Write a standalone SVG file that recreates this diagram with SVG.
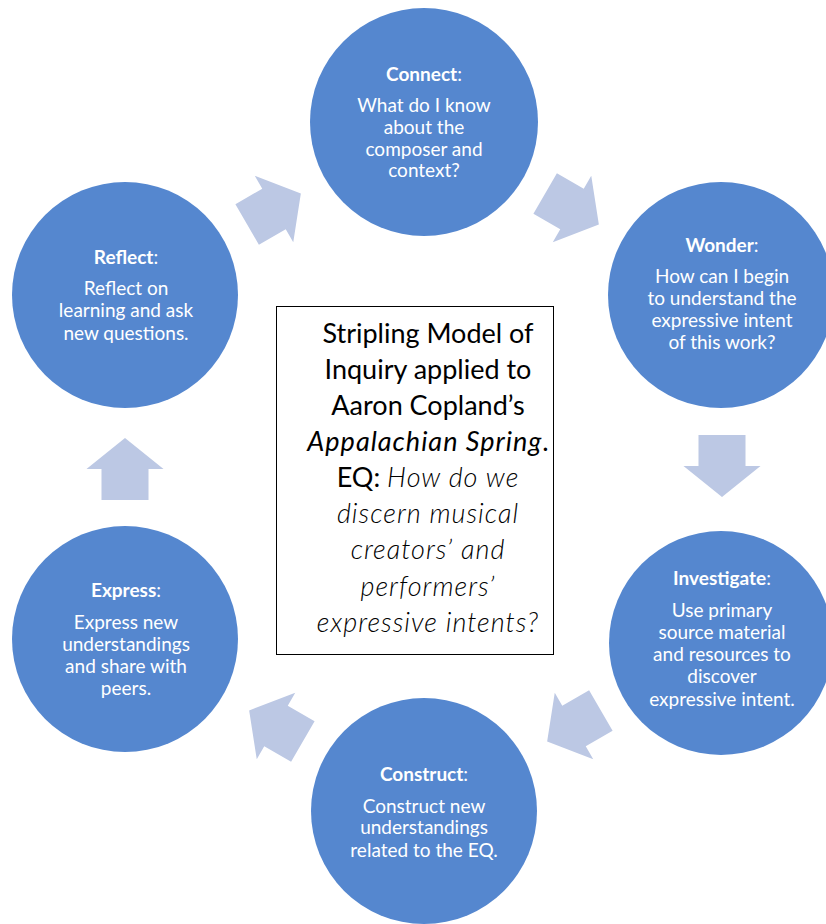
<svg xmlns="http://www.w3.org/2000/svg" width="826" height="924" viewBox="0 0 826 924">
<style>
.c{fill:#5587CF}
.ar{fill:#BCC8E4}
.t{font-family:Lato,"Open Sans","Liberation Sans",sans-serif;font-size:19px;fill:#fff;text-anchor:middle}
.b{font-weight:bold}
.m{font-family:Lato,"Open Sans","Liberation Sans",sans-serif;font-size:27px;fill:#000;text-anchor:middle}
.i{font-style:italic;letter-spacing:1px}
.l{font-weight:300}
</style>
<defs>
<path id="arrow" d="M-31,-23.5 H0 V-38.5 L31,0 L0,38.5 V23.5 H-31 Z"/>
</defs>
<rect width="826" height="924" fill="#fff"/>
<g id="connectors">
<use href="#arrow" class="ar" transform="translate(274,209) rotate(-30)"/>
<use href="#arrow" class="ar" transform="translate(572,209) rotate(30)"/>
<use href="#arrow" class="ar" transform="translate(722,466) rotate(90)"/>
<use href="#arrow" class="ar" transform="translate(574,726) rotate(150)"/>
<use href="#arrow" class="ar" transform="translate(276,726) rotate(210)"/>
<use href="#arrow" class="ar" transform="translate(125,469) rotate(-90)"/>
</g>
<g id="connect">
<circle class="c" cx="424" cy="122" r="114"/>
<text class="t" x="424" y="81"><tspan class="b">Connect</tspan>:</text>
<text class="t" x="424" y="112">What do I know</text>
<text class="t" x="424" y="134">about the</text>
<text class="t" x="424" y="156">composer and</text>
<text class="t" x="424" y="177">context?</text>
</g>
<g id="wonder">
<circle class="c" cx="721" cy="295" r="113"/>
<text class="t" x="722" y="252"><tspan class="b">Wonder</tspan>:</text>
<text class="t" x="722" y="283">How can I begin</text>
<text class="t" x="722" y="305">to understand the</text>
<text class="t" x="722" y="327">expressive intent</text>
<text class="t" x="722" y="349">of this work?</text>
</g>
<g id="investigate">
<circle class="c" cx="721" cy="643" r="112"/>
<text class="t" x="722" y="585"><tspan class="b">Investigate</tspan>:</text>
<text class="t" x="722" y="617">Use primary</text>
<text class="t" x="722" y="639">source material</text>
<text class="t" x="722" y="661">and resources to</text>
<text class="t" x="722" y="683">discover</text>
<text class="t" x="722" y="706">expressive intent.</text>
</g>
<g id="construct">
<circle class="c" cx="424" cy="811" r="113"/>
<text class="t" x="424" y="781"><tspan class="b">Construct</tspan>:</text>
<text class="t" x="424" y="813">Construct new</text>
<text class="t" x="424" y="834">understandings</text>
<text class="t" x="424" y="857">related to the EQ.</text>
</g>
<g id="express">
<circle class="c" cx="125" cy="639" r="113"/>
<text class="t" x="126" y="597"><tspan class="b">Express</tspan>:</text>
<text class="t" x="126" y="629">Express new</text>
<text class="t" x="126" y="651">understandings</text>
<text class="t" x="126" y="673">and share with</text>
<text class="t" x="126" y="695">peers.</text>
</g>
<g id="reflect">
<circle class="c" cx="125" cy="295" r="113"/>
<text class="t" x="126" y="264"><tspan class="b">Reflect</tspan>:</text>
<text class="t" x="126" y="295">Reflect on</text>
<text class="t" x="126" y="317">learning and ask</text>
<text class="t" x="126" y="340">new questions.</text>
</g>
<g id="center">
<rect x="276.5" y="306.5" width="277" height="348" fill="#fff" stroke="#000" stroke-width="1"/>
<text class="m" x="428" y="343">Stripling Model of</text>
<text class="m" x="428" y="379">Inquiry applied to</text>
<text class="m" x="428" y="415">Aaron Copland’s</text>
<text class="m" x="428" y="451"><tspan class="i">Appalachian Spring</tspan>.</text>
<text class="m" x="428" y="487">EQ: <tspan class="i l">How do we</tspan></text>
<text class="m i l" x="428" y="523">discern musical</text>
<text class="m i l" x="428" y="559">creators’ and</text>
<text class="m i l" x="428" y="596">performers’</text>
<text class="m i l" x="428" y="632">expressive intents?</text>
</g>
</svg>
